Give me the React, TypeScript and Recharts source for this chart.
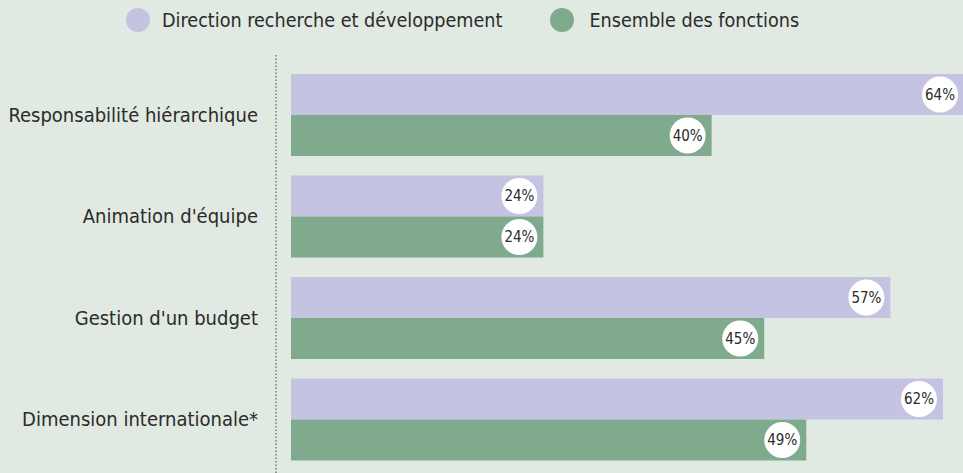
import React from 'react';
import { BarChart, Bar, XAxis, YAxis, Legend, LabelList } from 'recharts';

const categories = ['Responsabilité hiérarchique', "Animation d'équipe", "Gestion d'un budget", 'Dimension internationale*'];
const rdValues = [64, 24, 57, 62];
const allValues = [40, 24, 45, 49];
const seriesNames = ['Direction recherche et développement', 'Ensemble des fonctions'];
const seriesColors = ['#c4c4e2', '#80aa8e'];

const data = categories.map((name, i) => ({ name, rd: rdValues[i], all: allValues[i] }));

const FONT = '"DejaVu Sans Condensed", "Liberation Sans Narrow", "DejaVu Sans", sans-serif';
const TEXT = '#2b2b2b';

const BubbleLabel = (props: any) => {
  const { x, y, width, height, value } = props;
  const cx = x + width - 24;
  const cy = y + height / 2;
  return (
    <g>
      <circle cx={cx} cy={cy} r={18} fill="#ffffff" />
      <text x={cx} y={cy} dy={5} textAnchor="middle" fontSize={15} fill={TEXT} fontFamily={FONT}>
        {value}%
      </text>
    </g>
  );
};

const LegendContent = () => (
  <div style={{ display: 'flex', alignItems: 'center', height: 40, paddingLeft: 126, fontFamily: FONT, fontSize: 19.6, color: TEXT }}>
    {seriesNames.map((n, i) => (
      <div key={n} style={{ display: 'flex', alignItems: 'center', marginRight: i === 0 ? 48 : 0 }}>
        <span style={{ display: 'inline-block', width: 24, height: 24, borderRadius: 12, background: seriesColors[i], marginRight: i === 0 ? 12 : 15 }} />
        <span>{n}</span>
      </div>
    ))}
  </div>
);

export default function App() {
  return (
    <div style={{ position: 'absolute', left: 0, top: 0, width: 963, height: 473, overflow: 'hidden', background: '#e0e9e2' }}>
      <BarChart
        layout="vertical"
        width={964}
        height={473}
        data={data}
        margin={{ top: 15, right: 0, bottom: 0, left: 0 }}
        barGap={0}
        barSize={41}
      >
        <Legend verticalAlign="top" align="left" height={40} content={<LegendContent />} wrapperStyle={{ top: 0, left: 0 }} />
        <XAxis type="number" domain={[0, 64]} hide padding={{ left: 15, right: 0 }} />
        <YAxis
          type="category"
          dataKey="name"
          width={276}
          axisLine={{ stroke: '#444', strokeDasharray: '1.5 2' }}
          tickLine={false}
          tickMargin={12}
          padding={{ top: 9, bottom: 3 }}
          tick={{ fill: TEXT, fontSize: 20, fontFamily: FONT }}
          interval={0}
        />
        <Bar dataKey="rd" name={seriesNames[0]} fill={seriesColors[0]} isAnimationActive={false}>
          <LabelList dataKey="rd" content={<BubbleLabel />} />
        </Bar>
        <Bar dataKey="all" name={seriesNames[1]} fill={seriesColors[1]} isAnimationActive={false}>
          <LabelList dataKey="all" content={<BubbleLabel />} />
        </Bar>
      </BarChart>
    </div>
  );
}
